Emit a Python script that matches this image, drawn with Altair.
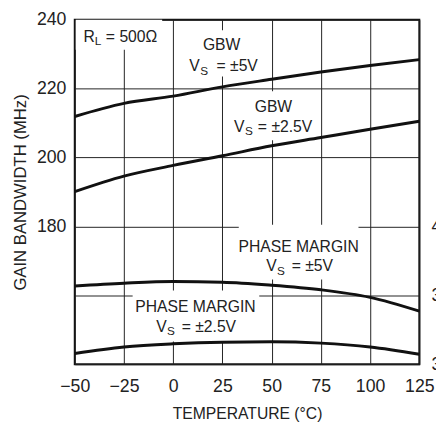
import altair as alt
import pandas as pd

# ---- data ----
temps = [-50, -25, 0, 25, 50, 75, 100, 125]
gbw_5v = [211.9, 215.7, 217.8, 220.5, 222.7, 224.8, 226.7, 228.4]
gbw_25v = [190.1, 194.6, 197.7, 200.5, 203.4, 205.8, 208.2, 210.5]
pm_5v = [35.68, 35.88, 36.0, 35.95, 35.73, 35.4, 34.85, 33.85]
pm_25v = [30.78, 31.25, 31.48, 31.6, 31.63, 31.53, 31.25, 30.73]

x_ticks = [-50, -25, 0, 25, 50, 75, 100, 125]
y_ticks = [140, 160, 180, 200, 220, 240]
pm_ticks = [30, 35, 40]

# annotation texts (data coordinates: temp, MHz baseline)
ann_text = ["R", "L", "= 500Ω",
            "GBW", "V", "S", "= ±5V",
            "GBW", "V", "S", "= ±2.5V",
            "PHASE MARGIN", "V", "S", "= ±5V",
            "PHASE MARGIN", "V", "S", "= ±2.5V"]
ann_x = [-45.5, -39.8, -34.2,
         24.6, 8.2, 13.8, 22.0,
         50.9, 30.9, 36.5, 43.0,
         63.7, 47.2, 52.7, 60.2,
         11.3, -8.6, -3.1, 4.3]
ann_y = [233.6, 232.6, 233.6,
         231.1, 225.1, 224.0, 225.1,
         213.2, 207.3, 206.4, 207.3,
         172.7, 167.0, 165.9, 167.0,
         155.1, 149.4, 148.5, 149.4]
ann_size = [16, 12, 16,
            16, 16, 12, 16,
            16, 16, 12, 16,
            16, 16, 12, 16,
            16, 16, 12, 16]
ann_align = ["left", "left", "left",
             "center", "left", "left", "left",
             "center", "left", "left", "left",
             "center", "left", "left", "left",
             "center", "left", "left", "left"]

# white boxes behind labels
box_x1 = [-49.5, 5.8, 26.3, 33.3, -20.6]
box_x2 = [-5.6, 44.2, 74.6, 94.1, 43.7]
box_y1 = [240.0, 236.9, 219.2, 180.5, 161.4]
box_y2 = [231.3, 223.5, 205.0, 164.6, 146.6]

FONT = "Liberation Sans"

gbw_df = pd.DataFrame({
    "temp": temps * 2,
    "val": gbw_5v + gbw_25v,
    "series": ["GBW ±5V"] * len(temps) + ["GBW ±2.5V"] * len(temps),
})
pm_df = pd.DataFrame({
    "temp": temps * 2,
    "val": pm_5v + pm_25v,
    "series": ["PM ±5V"] * len(temps) + ["PM ±2.5V"] * len(temps),
})
ann_df = pd.DataFrame({"text": ann_text, "x": ann_x, "y": ann_y,
                       "fs": ann_size, "align": ann_align})
box_df = pd.DataFrame({"x1": box_x1, "x2": box_x2, "y1": box_y1, "y2": box_y2})

x_scale = alt.Scale(domain=[-50, 125], nice=False, zero=False)
y_scale = alt.Scale(domain=[140, 240], nice=False, zero=False)
x_axis = alt.Axis(values=x_ticks, title="TEMPERATURE (°C)", grid=True,
                  ticks=False, domain=False, labelPadding=14, titlePadding=10,
                  labelFlush=False)
y_axis = alt.Axis(values=y_ticks, title="GAIN BANDWIDTH (MHz)", grid=True,
                  ticks=False, domain=False, labelPadding=9, titlePadding=7,
                  titleFontSize=17, labelFlush=False,
                  labelExpr="datum.value >= 180 ? datum.label : ''")


def xe(field):
    return alt.X(f"{field}:Q", scale=x_scale, axis=x_axis)


def ye(field):
    return alt.Y(f"{field}:Q", scale=y_scale, axis=y_axis)


boxes = alt.Chart(box_df).mark_rect(fill="white").encode(
    x=xe("x1"), x2="x2", y=ye("y1"), y2="y2")

gbw_lines = alt.Chart(gbw_df).mark_line(
    color="#111", strokeWidth=3, interpolate="monotone").encode(
    x=xe("temp"), y=ye("val"), detail="series:N")

txt_left = alt.Chart(ann_df).transform_filter("datum.align == 'left'").mark_text(
    align="left", baseline="alphabetic", font=FONT, color="#222").encode(
    x=xe("x"), y=ye("y"), text="text:N", size=alt.Size("fs:Q", scale=None))
txt_center = alt.Chart(ann_df).transform_filter("datum.align == 'center'").mark_text(
    align="center", baseline="alphabetic", font=FONT, color="#222").encode(
    x=xe("x"), y=ye("y"), text="text:N", size=alt.Size("fs:Q", scale=None))

left_group = alt.layer(boxes, gbw_lines, txt_left, txt_center)

pm_lines = alt.Chart(pm_df).mark_line(
    color="#111", strokeWidth=3, interpolate="monotone").encode(
    x=xe("temp"),
    y=alt.Y("val:Q", scale=alt.Scale(domain=[30, 55], nice=False, zero=False),
            axis=alt.Axis(orient="right", values=pm_ticks, title=None, grid=False,
                          ticks=False, domain=False, labelPadding=12,
                          labelFlush=False)),
    detail="series:N")

chart = alt.layer(left_group, pm_lines).resolve_scale(y="independent").properties(
    width=351, height=351,
    autosize=alt.AutoSizeParams(type="none"),
    padding={"left": 68, "top": 8, "right": 17, "bottom": 58},
).configure_view(stroke="#111", strokeWidth=2).configure_axis(
    labelFont=FONT, titleFont=FONT, labelFontSize=18, titleFontSize=16,
    labelColor="#222", titleColor="#222", titleFontWeight="normal",
    gridColor="#222", gridWidth=1, gridOpacity=1,
)

chart.save("out.html", embed_options={"renderer": "svg", "actions": False})
